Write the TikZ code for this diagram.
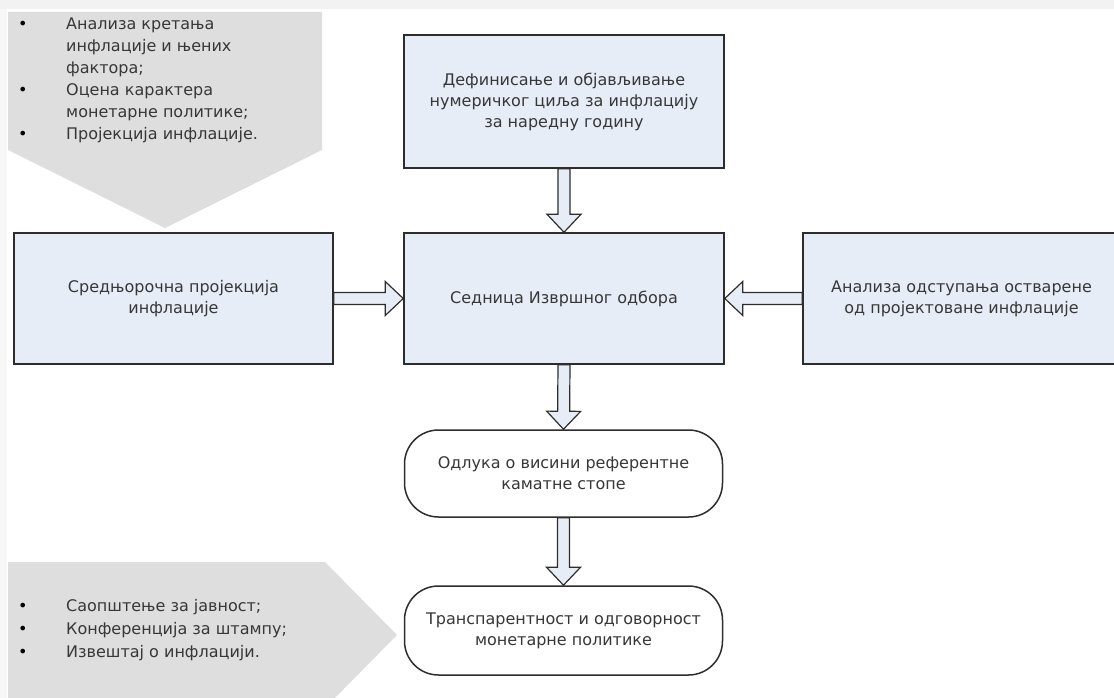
\documentclass[tikz,border=0pt]{standalone}
\usepackage{fontspec}
\setmainfont{DejaVu Sans}
\usetikzlibrary{shapes,arrows,positioning,calc}
\definecolor{boxfill}{RGB}{231,237,247}
\definecolor{boxline}{RGB}{45,45,45}
\definecolor{notefill}{RGB}{222,222,222}
\definecolor{txt}{RGB}{55,55,55}

\begin{document}
\begin{tikzpicture}[x=1pt, y=-1pt,
    every node/.style={font=\fontsize{16}{21}\selectfont, text=txt},
    box/.style={rectangle, draw=boxline, line width=1.5pt, fill=boxfill, align=center, inner sep=0pt},
    term/.style={rectangle, rounded corners=34pt, draw=boxline, line width=1.5pt, fill=white, align=center, inner sep=0pt},
    bigarrow/.style={draw=boxline, line width=1.2pt, fill=boxfill, line join=miter,
        to path={($(\tikztostart)!6pt!90:(\tikztotarget)$)
            -- ($($(\tikztotarget)!18pt!(\tikztostart)$)!6pt!90:(\tikztotarget)$)
            -- ($($(\tikztotarget)!18pt!(\tikztostart)$)!17pt!90:(\tikztotarget)$)
            -- (\tikztotarget)
            -- ($($(\tikztotarget)!18pt!(\tikztostart)$)!17pt!-90:(\tikztotarget)$)
            -- ($($(\tikztotarget)!18pt!(\tikztostart)$)!6pt!-90:(\tikztotarget)$)
            -- ($(\tikztostart)!6pt!-90:(\tikztotarget)$) -- cycle}}]
    \useasboundingbox (0,0) rectangle (1114,698);
    \clip (0,0) rectangle (1114,698);

    % Page edges
    \fill[black!5] (0,0) rectangle (1114,9);
    \fill[black!3] (0,9) rectangle (7,698);

    % Grey notes
    \fill[notefill] (8,12) -- (322,12) -- (322,150) -- (165,228) -- (8,150) -- cycle;
    \fill[notefill] (8,562) -- (325,562) -- (397,635) -- (325,708) -- (8,708) -- cycle;

    \node[anchor=north west, inner sep=0pt, font=\fontsize{16}{22}\selectfont] (analysis) at (18,14) {%
        \begin{tabular}{@{}p{48pt}@{}l@{}}
        \textcolor{black}{•} & Анализа кретања\\
                  & инфлације и њених\\
                  & фактора;\\
        \textcolor{black}{•} & Оцена карактера\\
                  & монетарне политике;\\
        \textcolor{black}{•} & Пројекција инфлације.
        \end{tabular}};
    \node[anchor=north west, inner sep=0pt, font=\fontsize{16}{23}\selectfont] (publish) at (18,595) {%
        \begin{tabular}{@{}p{48pt}@{}l@{}}
        \textcolor{black}{•} & Саопштење за јавност;\\
        \textcolor{black}{•} & Конференција за штампу;\\
        \textcolor{black}{•} & Извештај о инфлацији.
        \end{tabular}};

    % Boxes
    \node[box, minimum width=320pt, minimum height=133pt] (target) at (564,101.5) {Дефинисање и објављивање\\нумеричког циља за инфлацију\\за наредну годину};
    \node[box, minimum width=320pt, minimum height=131pt] (session) at (564,298.5) {Седница Извршног одбора};
    \node[box, minimum width=319pt, minimum height=131pt] (projection) at (173.5,298.5) {Средњорочна пројекција\\инфлације};
    \node[box, minimum width=317pt, minimum height=131pt] (deviation) at (961.5,298.5) {Анализа одступања остварене\\од пројектоване инфлације};
    \node[term, minimum width=318pt, minimum height=87pt] (decision) at (563.5,473.5) {Одлука о висини референтне\\каматне стопе};
    \node[term, minimum width=318pt, minimum height=89pt] (transparency) at (563.5,630.5) {Транспарентност и одговорност\\монетарне политике};

    % Arrows
    \draw[bigarrow] (target.south) to (session.north);
    \draw[bigarrow] (projection.east) to (session.west);
    \draw[bigarrow] (deviation.west) to (session.east);
    \draw[bigarrow] (session.south) to (decision.north);
    \draw[bigarrow] (decision.south) to (transparency.north);
\end{tikzpicture}
\end{document}
